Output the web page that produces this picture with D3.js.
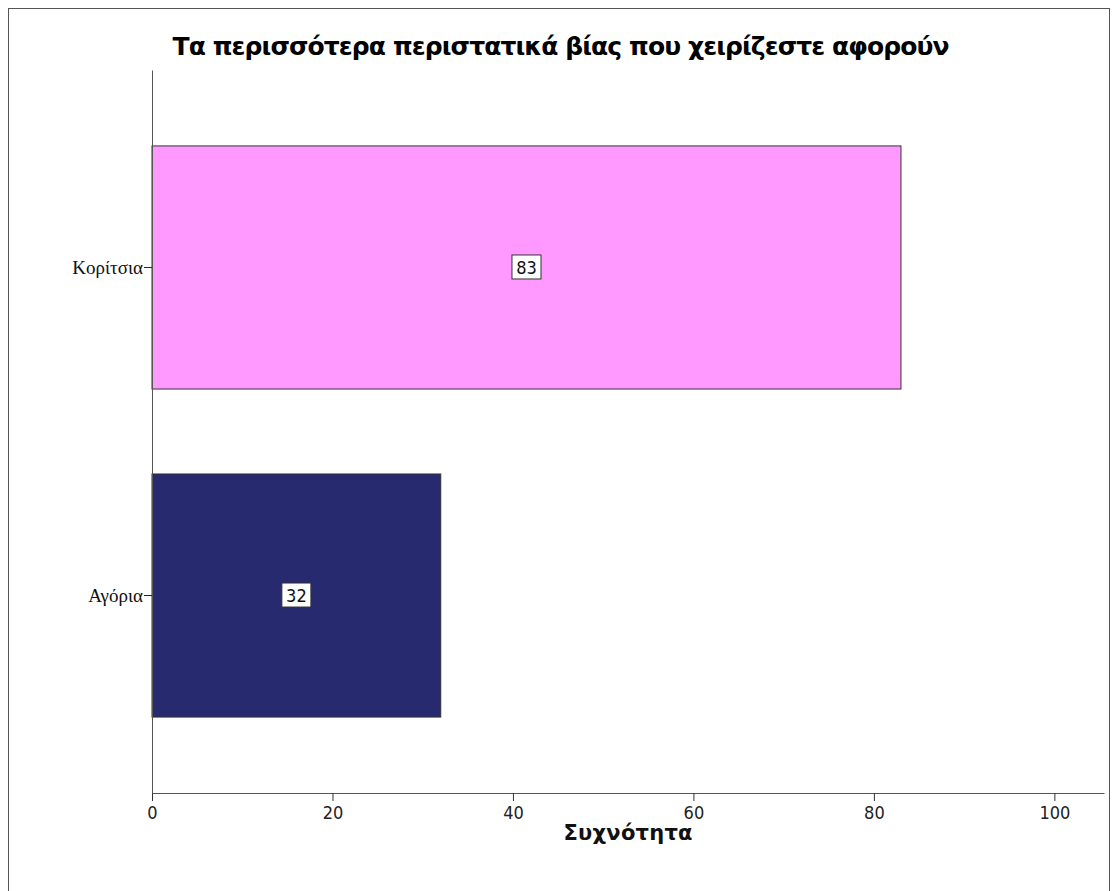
<!DOCTYPE html>
<html>
<head>
<meta charset="utf-8">
<script src="https://cdn.jsdelivr.net/npm/d3@7"></script>
<style>
  body { margin: 0; background: #fff; }
</style>
</head>
<body>
<div id="chart"></div>
<script>
// data
var categories = ["Κορίτσια", "Αγόρια"];
var counts = [83, 32];
var barColors = ["#ff99ff", "#272a6e"];
var xTicks = [0, 20, 40, 60, 80, 100];

var W = 1115, H = 891;

var svg = d3.select("#chart").append("svg")
    .attr("width", W)
    .attr("height", H);

// outer frame
svg.append("rect")
    .attr("x", 8.5).attr("y", 8.5)
    .attr("width", 1101).attr("height", 890)
    .attr("fill", "#fff")
    .attr("stroke", "#555").attr("stroke-width", 1);

var x = d3.scaleLinear().domain([0, 105.5]).range([152, 1104]);
var y = d3.scaleBand().domain(categories).range([70, 793])
    .paddingInner(0.259).paddingOuter(0.2315);

// bars
svg.selectAll("rect.bar")
    .data(categories)
  .enter().append("rect")
    .attr("class", "bar")
    .attr("x", x(0))
    .attr("y", function(d) { return y(d); })
    .attr("width", function(d, i) { return x(counts[i]) - x(0); })
    .attr("height", y.bandwidth())
    .attr("fill", function(d, i) { return barColors[i]; })
    .attr("stroke", "#333").attr("stroke-width", 1);

// x axis
var xAxis = svg.append("g")
    .attr("transform", "translate(0,793)")
    .call(d3.axisBottom(x).tickValues(xTicks).tickSize(8).tickSizeOuter(0).tickPadding(5));
xAxis.select(".domain").attr("stroke", "#555");
xAxis.selectAll(".tick line").attr("stroke", "#333");
xAxis.selectAll("text")
    .attr("fill", "#222")
    .style("font-family", "'DejaVu Sans Condensed', 'DejaVu Sans', sans-serif")
    .style("font-size", "18px");

// y axis
var yAxis = svg.append("g")
    .attr("transform", "translate(152,0)")
    .call(d3.axisLeft(y).tickSize(8).tickSizeOuter(0).tickPadding(1));
yAxis.select(".domain").attr("stroke", "#555");
yAxis.selectAll(".tick line").attr("stroke", "#222");
yAxis.selectAll("text")
    .attr("fill", "#111")
    .style("font-family", "'Liberation Serif', 'DejaVu Serif', serif")
    .style("font-size", "19px");

// value labels
var labels = svg.selectAll("g.vlabel")
    .data(categories)
  .enter().append("g")
    .attr("class", "vlabel")
    .attr("transform", function(d, i) {
      return "translate(" + ((x(0) + x(counts[i])) / 2) + "," + (y(d) + y.bandwidth() / 2) + ")";
    });
labels.append("rect")
    .attr("x", -14.5).attr("y", -12.5)
    .attr("width", 29).attr("height", 24)
    .attr("fill", "#fff").attr("stroke", "#333");
labels.append("text")
    .attr("text-anchor", "middle")
    .attr("dy", "0.36em")
    .style("font-family", "'DejaVu Sans Condensed', 'DejaVu Sans', sans-serif")
    .style("font-size", "18px")
    .attr("fill", "#111")
    .text(function(d, i) { return counts[i]; });

// title
svg.append("text")
    .attr("x", 561).attr("y", 55)
    .attr("text-anchor", "middle")
    .attr("textLength", 777)
    .attr("lengthAdjust", "spacing")
    .style("font-family", "'DejaVu Sans', sans-serif")
    .style("font-size", "25px")
    .style("font-weight", "600")
    .attr("fill", "#000")
    .text("Τα περισσότερα περιστατικά βίας που χειρίζεστε αφορούν");

// x axis title
svg.append("text")
    .attr("x", 628).attr("y", 840)
    .attr("text-anchor", "middle")
    .attr("textLength", 129)
    .attr("lengthAdjust", "spacing")
    .style("font-family", "'DejaVu Sans', sans-serif")
    .style("font-size", "21px")
    .style("font-weight", "bold")
    .attr("fill", "#111")
    .text("Συχνότητα");
</script>
</body>
</html>
